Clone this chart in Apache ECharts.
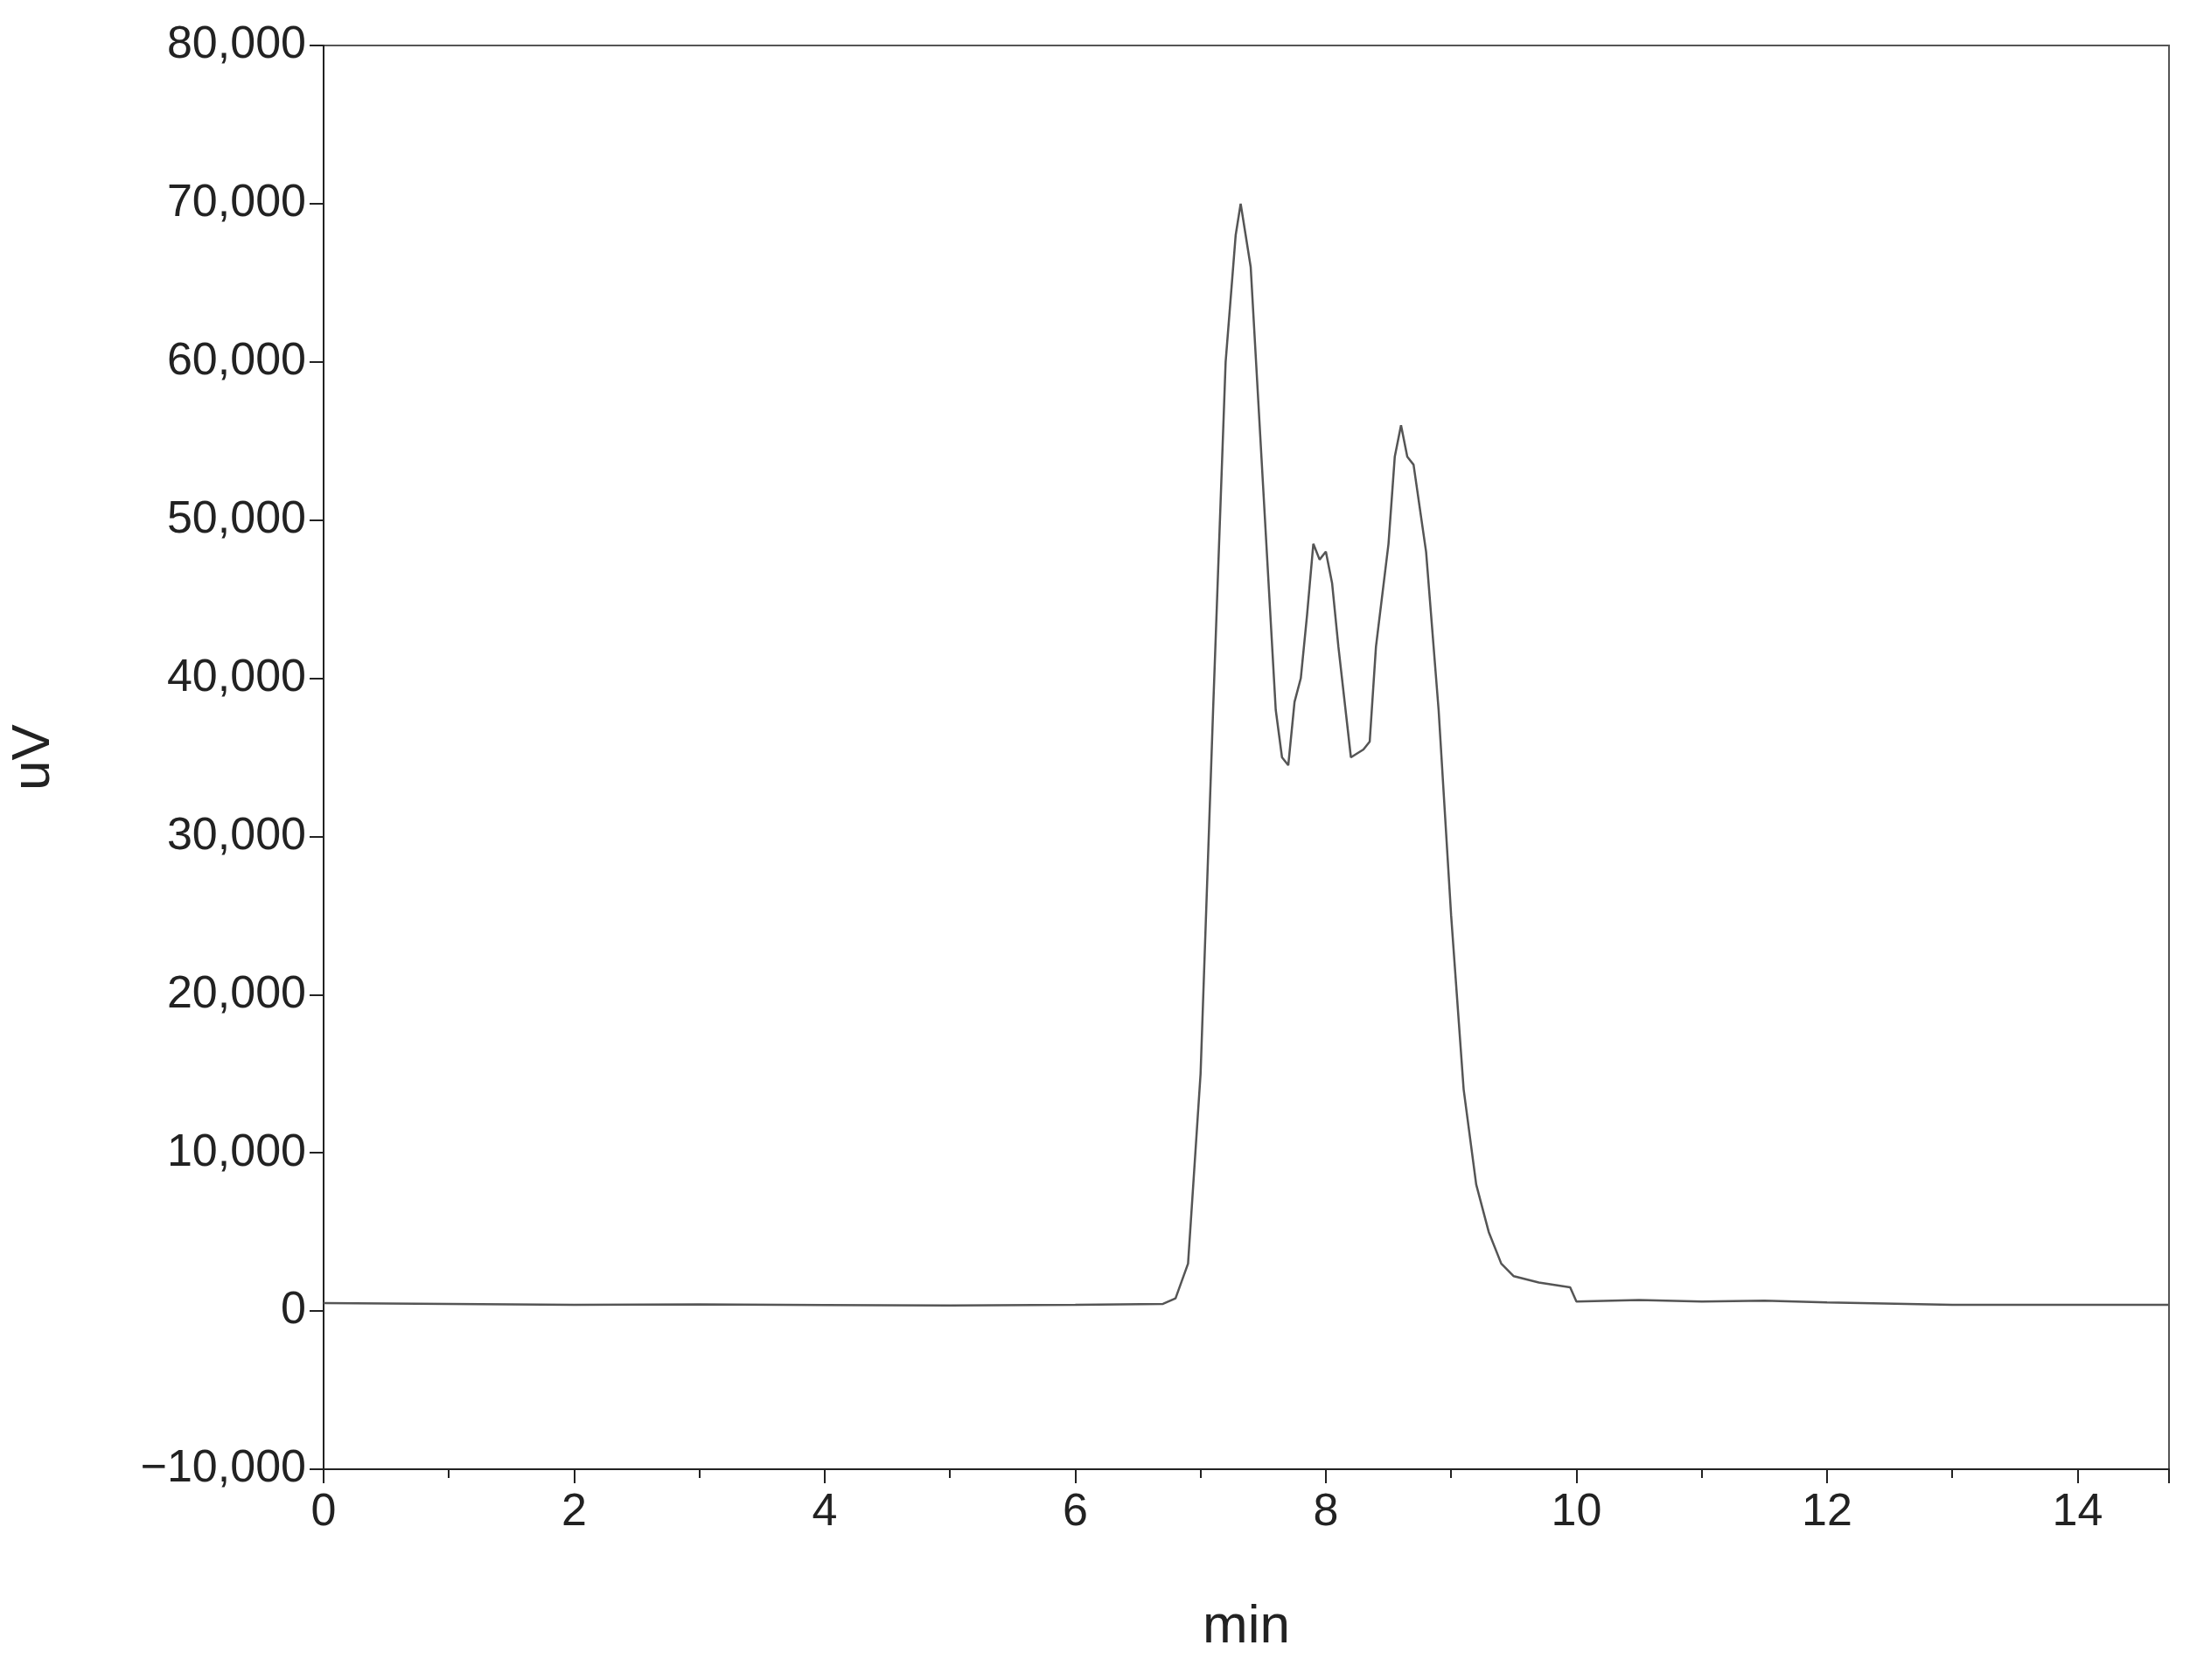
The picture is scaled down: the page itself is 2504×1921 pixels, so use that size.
<!DOCTYPE html>
<html>
<head>
<meta charset="UTF-8">
<script src="https://cdn.jsdelivr.net/npm/echarts@6/dist/echarts.min.js"></script>
<style>
  html, body { margin: 0; padding: 0; background: #fff; }
  #chart { width: 2504px; height: 1921px; }
</style>
</head>
<body>
<div id="chart"></div>
<script>
// retention time (min) and detector signal (uV)
const times = [0, 1, 2, 3, 4, 5, 6, 6.7, 6.8, 6.9, 7.0, 7.1, 7.2, 7.28, 7.32, 7.36, 7.4, 7.5, 7.6, 7.65, 7.7,
  7.75, 7.8, 7.85, 7.9, 7.95, 8.0, 8.05, 8.1, 8.2, 8.3, 8.35, 8.4, 8.5, 8.55, 8.6, 8.65, 8.7, 8.8, 8.9,
  9.0, 9.1, 9.2, 9.3, 9.4, 9.5, 9.7, 9.95, 10.0, 10.5, 11, 11.5, 12, 13, 14, 14.73];
const signal = [500, 450, 400, 420, 380, 350, 400, 450, 800, 3000, 15000, 38000, 60000, 68000, 70000, 68000,
  66000, 52000, 38000, 35000, 34500, 38500, 40000, 44000, 48500, 47500, 48000, 46000, 42000, 35000, 35500,
  36000, 42000, 48500, 54000, 56000, 54000, 53500, 48000, 38000, 25000, 14000, 8000, 5000, 3000, 2200,
  1800, 1500, 600, 700, 600, 650, 550, 400, 400, 400];

const chart = echarts.init(document.getElementById('chart'));
const fmt = v => (v < 0 ? '\u2212' : '') + Math.abs(v).toLocaleString('en-US');
const axisStyle = { onZero: false, lineStyle: { color: '#222', width: 2 } };

chart.setOption({
  animation: false,
  grid: { left: 368, right: 24, top: 52, bottom: 241, show: true, borderColor: '#555', borderWidth: 2 },
  xAxis: {
    type: 'value', min: 0, max: 14.73, interval: 2,
    name: 'min', nameLocation: 'middle', nameGap: 150,
    nameTextStyle: { fontSize: 62, color: '#222', fontFamily: 'Liberation Sans' },
    axisLine: axisStyle,
    axisTick: { length: 16, lineStyle: { color: '#222', width: 2 } },
    minorTick: { show: true, splitNumber: 2, length: 10, lineStyle: { color: '#222', width: 2 } },
    axisLabel: { fontSize: 52, color: '#222', margin: 24, fontFamily: 'Liberation Sans', showMaxLabel: false },
    splitLine: { show: false }
  },
  yAxis: {
    type: 'value', min: -10000, max: 80000, interval: 10000,
    name: 'uV', nameLocation: 'middle', nameGap: 300, nameRotate: 90,
    nameTextStyle: { fontSize: 62, color: '#222', fontFamily: 'Liberation Sans' },
    axisLine: axisStyle,
    axisTick: { length: 16, lineStyle: { color: '#222', width: 2 } },
    axisLabel: { fontSize: 52, color: '#222', margin: 20, fontFamily: 'Liberation Sans', formatter: fmt },
    splitLine: { show: false }
  },
  series: [{
    type: 'line',
    data: times.map((t, i) => [t, signal[i]]),
    showSymbol: false,
    lineStyle: { color: '#555', width: 2.5 }
  }]
});
</script>
</body>
</html>
